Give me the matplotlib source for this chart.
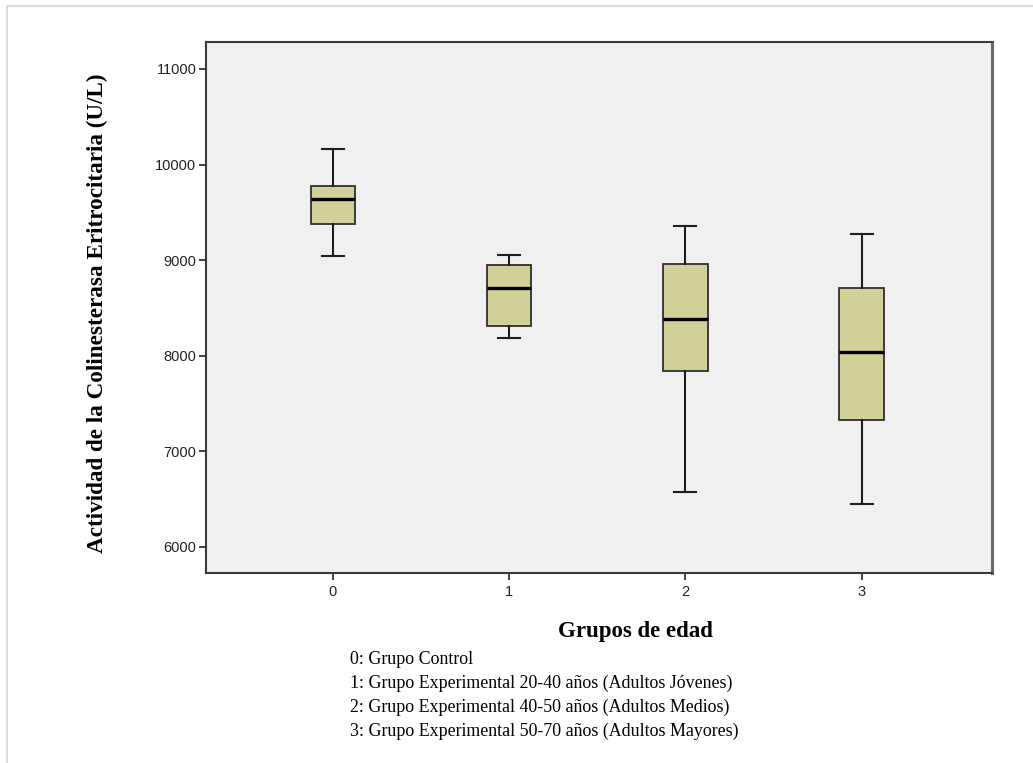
import matplotlib
matplotlib.use("Agg")
import matplotlib.pyplot as plt
from matplotlib.lines import Line2D

# ---- data ----
groups = ["0", "1", "2", "3"]
whisker_low = [9040, 8188, 6579, 6454]
q1 = [9380, 8310, 7841, 7333]
median = [9644, 8707, 8386, 8044]
q3 = [9777, 8948, 8964, 8710]
whisker_high = [10167, 9055, 9362, 9275]
y_ticks = [6000, 7000, 8000, 9000, 10000, 11000]
legend_lines = [
    "0: Grupo Control",
    "1: Grupo Experimental 20-40 años (Adultos Jóvenes)",
    "2: Grupo Experimental 40-50 años (Adultos Medios)",
    "3: Grupo Experimental 50-70 años (Adultos Mayores)",
]
y_label = "Actividad de la Colinesterasa Eritrocitaria (U/L)"
x_label = "Grupos de edad"

W, H = 1033, 763
fig = plt.figure(figsize=(W / 100, H / 100), dpi=100)
fig.patch.set_facecolor("white")

ax = fig.add_axes([206 / W, 1 - 573 / H, (992 - 206) / W, (573 - 42) / H])
ax.set_facecolor("#f0f0f0")

stats = []
for i, g in enumerate(groups):
    stats.append(dict(label=g, whislo=whisker_low[i], q1=q1[i], med=median[i],
                      q3=q3[i], whishi=whisker_high[i], fliers=[]))
positions = list(range(len(groups)))
ax.bxp(stats, positions=positions, widths=0.253, capwidths=0.125,
       patch_artist=True, showfliers=False,
       boxprops=dict(facecolor="#d3cf98", edgecolor="#2f2f2f", linewidth=1.3),
       medianprops=dict(color="black", linewidth=2.4),
       whiskerprops=dict(color="#1e1e1e", linewidth=1.5),
       capprops=dict(color="#1e1e1e", linewidth=1.5))

ax.set_xlim(-0.72, 3.74)
ax.set_ylim(5728, 11282)
ax.set_yticks(y_ticks)
ax.set_yticklabels([str(v) for v in y_ticks])
ax.set_xticks(positions)
ax.set_xticklabels(groups)
ax.tick_params(axis="both", direction="out", length=5, width=1.2, color="#222222",
               labelsize=10.5, labelcolor="#222222")
ax.tick_params(axis="y", pad=2)
for lab in ax.get_xticklabels() + ax.get_yticklabels():
    lab.set_fontfamily("Liberation Sans")
for s in ax.spines.values():
    s.set_color("#3a3a3a")
    s.set_linewidth(1.5)
ax.spines["right"].set_color("#6a6a6a")
ax.spines["right"].set_linewidth(2.2)

fig.text(97 / W, 1 - 313 / H, y_label, rotation=90, ha="center", va="center",
         fontsize=16.7, fontweight="bold", family="Liberation Serif")
fig.text(635 / W, 1 - 632 / H, x_label, ha="center", va="center",
         fontsize=16.5, fontweight="bold", family="Liberation Serif")
for k, line in enumerate(legend_lines):
    fig.text(350 / W, 1 - (660 + 23.7 * k) / H, line, ha="left", va="center",
             fontsize=12.9, family="Liberation Serif")

# light outer frame (top and left)
fig.add_artist(Line2D([7 / W, 1], [1 - 6 / H, 1 - 6 / H], color="#dcdcdc", linewidth=1.5))
fig.add_artist(Line2D([7 / W, 7 / W], [0, 1 - 6 / H], color="#dcdcdc", linewidth=1.5))

fig.savefig("out.png", dpi=100)
